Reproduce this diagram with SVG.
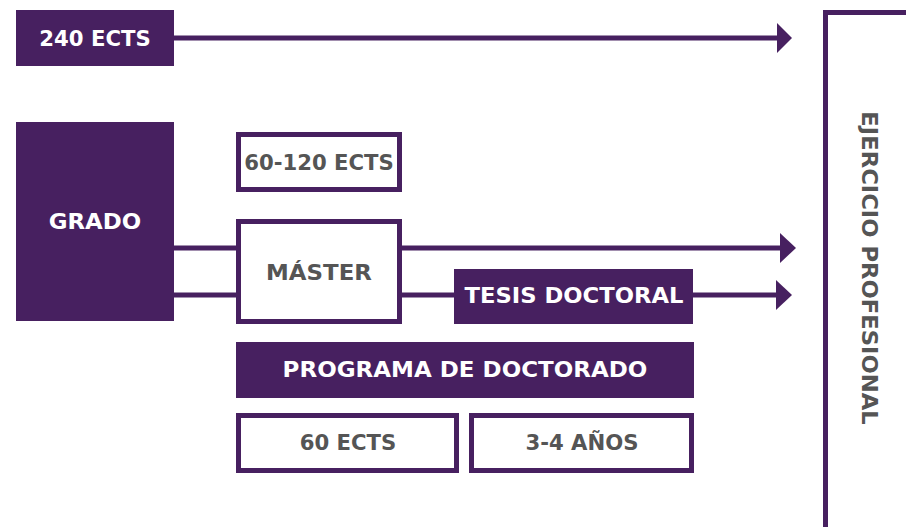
<svg xmlns="http://www.w3.org/2000/svg" width="906" height="527" viewBox="0 0 906 527">
<style>
.fill{fill:#472060}
.out{fill:#fff;stroke:#472060;stroke-width:5}
.ln{stroke:#472060;stroke-width:5;fill:none}
.ah{fill:#472060}
.tw,.tg{font-family:"DejaVu Sans","Liberation Sans",sans-serif;font-weight:bold;font-size:21px;text-anchor:middle}
.tw{fill:#fff}
.tg{fill:#555}
</style>
<rect width="906" height="527" fill="#fff"/>
<g id="connectors">
<line class="ln" x1="174" y1="38" x2="779" y2="38"/>
<polygon class="ah" points="777,23 792,38 777,53"/>
<line class="ln" x1="174" y1="248" x2="238" y2="248"/>
<line class="ln" x1="174" y1="295" x2="238" y2="295"/>
<line class="ln" x1="400" y1="248" x2="782" y2="248"/>
<polygon class="ah" points="780,233 796,248 780,263"/>
<line class="ln" x1="400" y1="295" x2="456" y2="295"/>
<line class="ln" x1="692" y1="295" x2="778" y2="295"/>
<polygon class="ah" points="776,280 792,295 776,310"/>
</g>
<g id="n240">
<rect class="fill" x="16" y="10" width="158" height="56"/>
<text class="tw" transform="translate(95,46) scale(1.01,1)">240 ECTS</text>
</g>
<g id="grado">
<rect class="fill" x="16" y="122" width="158" height="199"/>
<text class="tw" transform="translate(95,229) scale(1.09,1)">GRADO</text>
</g>
<g id="ects60120">
<rect class="out" x="238.5" y="134.5" width="161" height="55"/>
<text class="tg" transform="translate(319,170) scale(1.01,1)">60-120 ECTS</text>
</g>
<g id="master">
<rect class="out" x="238.5" y="221.5" width="161" height="100"/>
<text class="tg" transform="translate(319,280) scale(1.09,1)">MÁSTER</text>
</g>
<g id="tesis">
<rect class="fill" x="454" y="269" width="239" height="55"/>
<text class="tw" transform="translate(574,303) scale(1.08,1)">TESIS DOCTORAL</text>
</g>
<g id="programa">
<rect class="fill" x="236" y="342" width="458" height="56"/>
<text class="tw" transform="translate(465,377) scale(1.095,1)">PROGRAMA DE DOCTORADO</text>
</g>
<g id="ects60">
<rect class="out" x="238.5" y="415.5" width="218" height="55"/>
<text class="tg" transform="translate(348,450) scale(1.01,1)">60 ECTS</text>
</g>
<g id="anos">
<rect class="out" x="471.5" y="415.5" width="220" height="55"/>
<text class="tg" transform="translate(582,450) scale(1.01,1)">3-4 AÑOS</text>
</g>
<g id="ejercicio">
<rect class="out" x="825.5" y="12.5" width="200" height="600"/>
<text class="tg" transform="translate(862,268) rotate(90) scale(1.08,1)">EJERCICIO PROFESIONAL</text>
</g>
</svg>
